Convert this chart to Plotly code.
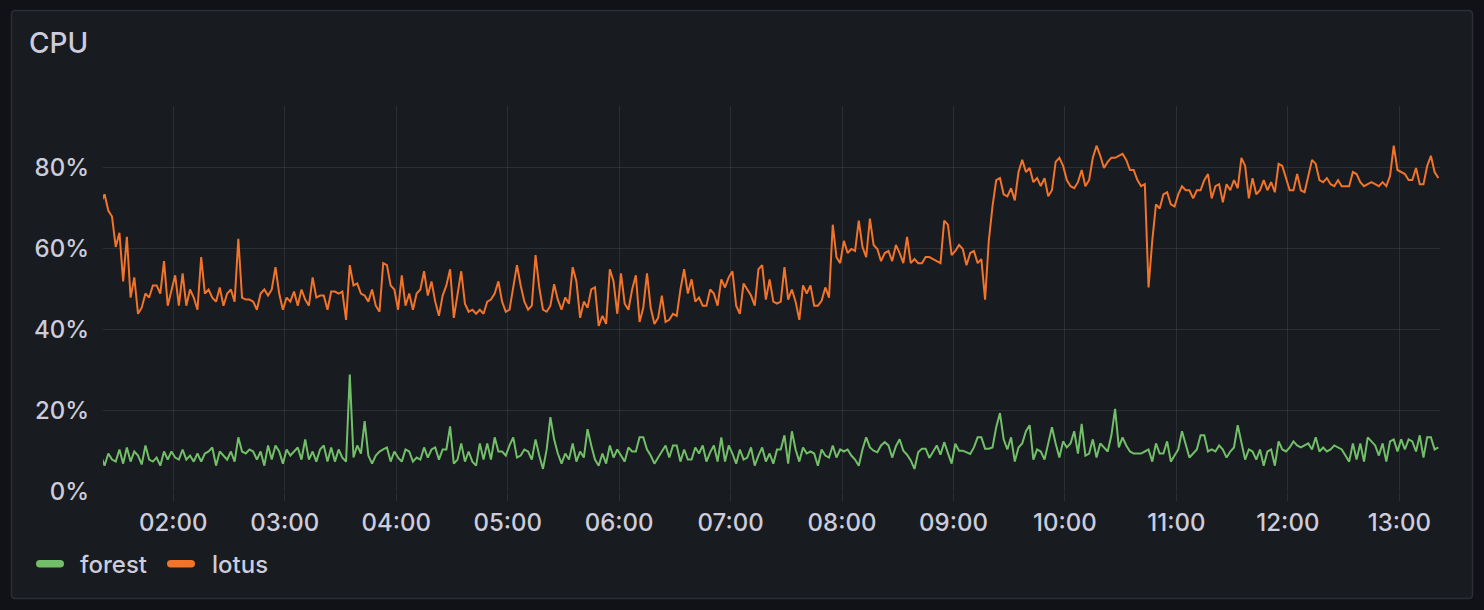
import pandas as pd
import plotly.graph_objects as go

# ---- data (2-minute samples starting 01:21) ----
start_time = "2024-01-01 01:21"
sample_step = "2min"

lotus = [
    71.5, 73.5, 69.5, 68, 60.5, 64, 52, 63, 48, 53,
    44, 45.5, 49, 48, 51, 51, 49, 57, 46, 50,
    53.5, 46, 54, 46, 50, 48, 45, 58, 49, 50,
    48, 47, 50.5, 46, 49, 50, 47, 62.5, 48, 47.5,
    47.5, 47, 45, 49, 50, 48.5, 50, 55.5, 49, 45,
    48, 47, 49.5, 46, 50, 47.5, 46, 53, 48, 48.5,
    48.5, 45,
    49.5, 49.5, 49, 49.5, 42.5, 56, 51, 51.5, 49, 48.5,
    47, 50, 46, 44.5, 56.5, 56, 51, 50, 45, 53.5,
    46, 49, 45, 49, 50, 54.5, 48.5, 52, 47, 43.5,
    48.5, 51, 55, 43, 48.5, 54.5, 46.5, 44.5, 45, 44,
    45, 44, 47, 47.5, 49, 52, 47, 44.5, 45, 50,
    56, 51, 47, 45, 46, 58.5, 50.5, 45, 44.5,
    46, 51.3, 47.5, 45, 48, 46.5, 55.5, 52, 43, 47,
    45.5, 50, 50.5, 41, 43.5, 41.5, 55, 52, 44, 54,
    46.5, 45, 50, 53.5, 42, 45.5, 54, 45.5, 41.5, 43,
    48.5, 42, 42.5, 44, 43.5, 50, 55, 49, 52.5, 47,
    48, 46, 46, 50, 49, 46, 52.5, 50.5, 53, 54.5,
    46, 44, 51.5, 50, 48.5, 46, 55, 56, 47.5,
    52.5, 47, 46.5, 47, 55.5, 47.5, 50, 47, 42.5, 51,
    49, 51, 46, 46, 47.2, 50.5, 48, 66, 58, 56.5,
    62, 59, 60, 59.5, 67, 60.5, 58, 67.5, 61, 60,
    57, 59, 59.5, 57, 61, 59, 56.5, 63, 56.5, 57.5,
    56.5, 56.5, 58, 58, 57.5, 57, 56.5, 67, 66, 58.5,
    59.5, 61, 60, 56, 59, 59.5, 56.5, 57.5, 47.5, 62,
    70.5, 77, 77.5, 73.5, 73, 75, 72, 79, 82, 79,
    80, 76.5, 77.5, 75.5, 77.5, 73, 74.5, 81.5, 82.5, 80.5,
    77, 75.5, 75, 76.5, 79.5, 75.5, 77, 82.5, 85.5, 83,
    80, 81.5, 82.5, 82.5, 83, 83.5, 82, 79.5, 79.5, 77,
    75.5, 76, 50.5, 62, 71, 70, 73.5, 74, 71, 70.5,
    73.5, 75.5, 74.5, 74.5, 72.5, 74.5, 74.5, 77, 78.5,
    72.5, 75.5, 76, 71.5, 76, 74.5, 77, 75, 82.5, 80.5,
    72.5, 77.5, 73.5, 74.5, 77, 74.5, 76.5, 74, 81, 80.5,
    77.5, 74.5, 74.5, 78.5, 74.5, 74, 78, 82, 81, 77,
    76.5, 77.5, 76, 75.5, 77, 75.5, 75.5, 75.5, 79, 78.5,
    76.5, 75.5, 76, 76.5, 76, 75.5, 76.5, 75.5, 78, 85.5,
    79.5, 79, 78.5, 77, 77, 80, 76, 76, 80.5, 83,
    79, 77.5,
]

forest = [
    9, 6.5, 9.5, 8, 7.5, 10.5, 7, 11, 7.5, 10,
    9, 6.8, 11.5, 8, 7.5, 8.5, 6.5, 10, 8, 10,
    8.5, 8, 10.5, 8, 9, 7.5, 9.5, 7.5, 9.5, 10,
    11, 6.5, 10, 9, 8, 10, 7.5, 13.5, 10, 9.5,
    10.5, 10, 8, 10, 6.5, 11.5, 8, 11.5, 10, 7,
    10.5, 9, 10, 11, 8, 13, 8, 10, 7.5, 10.5,
    11.5, 7.5,
    11, 7.5, 10.5, 8.5, 7.5, 29, 8.5, 11.5, 9.5, 17.5,
    9, 7, 9, 10, 10.5, 11, 7.5, 10, 8.5, 7.5,
    10.5, 10, 7.5, 8.5, 8, 11, 8.5, 10.5, 11, 8,
    10.5, 10.5, 16.2, 7, 8, 12, 7.5, 10, 7.5, 6.5,
    12, 8, 12, 8, 13.5, 10, 10, 9, 11.5, 13.5,
    8.5, 9, 10.5, 10, 8, 13, 9, 5.7, 10.5,
    18.5, 13, 9.5, 7, 9.5, 8, 12, 7.5, 10, 8.5,
    15.5, 11.5, 8, 6.5, 9.5, 7, 11.5, 8.5, 10.5, 9,
    7.5, 11, 10, 10, 13.5, 13.5, 10.5, 9, 7, 8.5,
    10, 11.5, 8.5, 11.5, 11.5, 7.5, 10.5, 8, 8, 11,
    9.5, 11.5, 7.5, 9.8, 11.5, 7.5, 13.5, 7.5, 11.5, 9.5,
    7, 10.5, 8, 8.5, 11, 6.5, 9, 11, 7.5,
    9.5, 7, 10.5, 10.5, 14, 7, 15, 10.5, 7.5, 11,
    9.5, 10, 9.5, 6.5, 10.5, 9, 8.5, 11.5, 8.5, 10.5,
    10, 10.5, 9, 8, 6.5, 10.5, 13.5, 11, 10.2, 9.8,
    11.5, 12.3, 11.5, 8.5, 11.3, 13, 10.2, 9.2, 7.8, 5.7,
    9.8, 10.7, 10.7, 8.4, 9.8, 11.5, 9.2, 12.3, 9.6, 7,
    11.9, 10.2, 10.2, 9.8, 9.4, 11, 13.5, 13.5, 10.7, 10.7,
    11, 16, 19.5, 13, 10.5, 13.5, 7.5, 11, 12, 15,
    16.5, 8, 10.5, 10, 8, 12, 16, 12, 8.5, 12.5,
    11, 12, 15, 9.5, 16.8, 9, 9.5, 13, 8.5, 12,
    11, 10, 14, 20.5, 11, 13.5, 11.5, 10, 9.5, 9.5,
    9.5, 10, 10.5, 7.5, 12, 9.5, 9.5, 12.5, 7.5, 9,
    10.5, 15, 12, 8.5, 9.5, 10.5, 14, 14, 10,
    10.5, 10, 11.5, 10.5, 8.5, 10, 11, 16.5, 12, 8,
    10.5, 10, 8, 10.5, 6.5, 10, 10.5, 6.5, 12.5, 10.5,
    10, 11, 12.5, 11.5, 11, 11.5, 12, 10.5, 13.5, 10,
    11, 10, 10.5, 11.5, 11, 10.5, 9, 7.5, 12, 8,
    12, 7.5, 13.5, 12.5, 11.5, 9, 12, 7.5, 12.5, 13,
    10, 13, 10.5, 13, 12.5, 10, 14, 8.5, 13.5, 13.5,
    10.5, 11,
]

series_names = ["forest", "lotus"]
y_tick_values = [0, 20, 40, 60, 80]
y_tick_labels = ["0%", "20%", "40%", "60%", "80%"]
x_range = ["2024-01-01 01:22:09", "2024-01-01 13:21:54"]

times = pd.date_range(start_time, periods=len(lotus), freq=sample_step)

# ---- styling ----
GREEN = "#73BF69"
ORANGE = "#F2732A"
TEXT = "#ccccdc"
GRID = "rgba(204,204,220,0.11)"
PANEL = "#181b1f"
OUTER = "#111217"
BORDER = "#2b2e34"
FONT = "Inter, 'Open Sans', sans-serif"

W, H = 1484, 610
L, R, T, B = 103, 1440, 106, 492


def px(x):
    return (x - L) / (R - L)


def py(y):
    return (B - y) / (B - T)


def rounded_rect(xa, ya, xb, yb, r):
    """Path (paper coords) for a rounded rectangle given in pixel coords."""
    x0, x1 = px(xa), px(xb)
    y0, y1 = py(yb), py(ya)
    rx = r / (R - L)
    ry = r / (B - T)
    return (
        f"M{x0 + rx},{y1} L{x1 - rx},{y1} Q{x1},{y1} {x1},{y1 - ry} "
        f"L{x1},{y0 + ry} Q{x1},{y0} {x1 - rx},{y0} L{x0 + rx},{y0} "
        f"Q{x0},{y0} {x0},{y0 + ry} L{x0},{y1 - ry} Q{x0},{y1} {x0 + rx},{y1} Z"
    )


colors = {"forest": GREEN, "lotus": ORANGE}
values = {"forest": forest, "lotus": lotus}

fig = go.Figure()
for name in series_names:
    fig.add_trace(go.Scatter(
        x=times, y=values[name], mode="lines", name=name,
        showlegend=False, line=dict(color=colors[name], width=2),
        hovertemplate="%{y:.1f}%<extra>" + name + "</extra>",
    ))

shapes = [dict(type="path", path=rounded_rect(11.5, 10.5, 1472.5, 598.5, 4),
               xref="paper", yref="paper", fillcolor=PANEL,
               line=dict(color=BORDER, width=1.5), layer="below")]

# legend (Grafana style: rounded swatch + label)
legend_items = [("forest", 36, 78), ("lotus", 167, 210)]
annotations = []
for name, sx, tx in legend_items:
    shapes.append(dict(type="path", path=rounded_rect(sx, 560, sx + 28, 567.5, 3.75),
                       xref="paper", yref="paper", fillcolor=colors[name],
                       line=dict(width=0), layer="above"))
    annotations.append(dict(text=name, x=px(tx), y=py(564), xref="paper", yref="paper",
                            xanchor="left", yanchor="middle", showarrow=False,
                            font=dict(family=FONT, size=24, color=TEXT, weight=500)))

fig.update_layout(
    width=W, height=H,
    margin=dict(l=L, r=W - R, t=T, b=H - B, pad=0, autoexpand=False),
    paper_bgcolor=OUTER,
    plot_bgcolor="rgba(0,0,0,0)",
    font=dict(family=FONT, color=TEXT, size=24),
    shapes=shapes,
    annotations=annotations,
    title=dict(text="CPU", x=29 / W, xref="container", xanchor="left",
               y=1 - 43 / H, yref="container", yanchor="middle",
               font=dict(family=FONT, size=28, color=TEXT, weight=500)),
    showlegend=False,
    xaxis=dict(
        type="date", range=x_range, dtick=3600000, tickformat="%H:%M",
        showgrid=True, gridcolor=GRID, gridwidth=1, zeroline=False, showline=False,
        ticks="outside", ticklen=8, tickcolor=GRID, tickwidth=1,
        ticklabelstandoff=1, tickfont=dict(size=24, color=TEXT, weight=500),
    ),
    yaxis=dict(
        range=[0, 95.3], tickvals=y_tick_values, ticktext=y_tick_labels,
        showgrid=True, gridcolor=GRID, gridwidth=1, zeroline=False, showline=False,
        ticks="", ticklabelstandoff=13, tickfont=dict(size=24, color=TEXT, weight=500),
    ),
)

fig.write_html("out.html")
